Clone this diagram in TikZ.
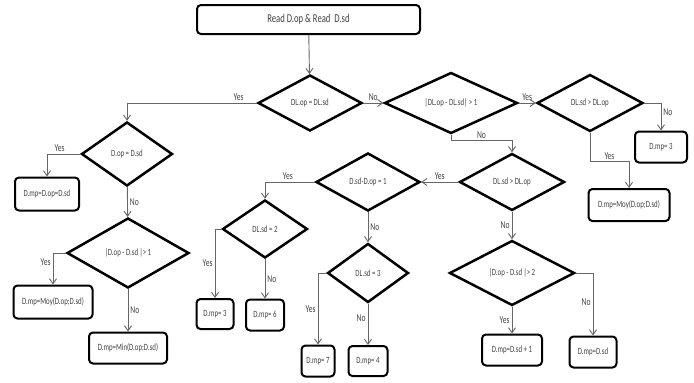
\documentclass[tikz,border=0pt]{standalone}
\usepackage{fontspec}
\newfontfamily\chartfont[FakeStretch=0.72]{Carlito}
\usetikzlibrary{arrows.meta, shapes.geometric}

\tikzset{
    every node/.style={font=\chartfont\fontsize{9.5}{11}\selectfont, text=black!75},
    result/.style={rectangle, rounded corners=4pt, draw, line width=2pt, inner sep=1pt,
        minimum height=31pt},
    decision/.style 2 args={diamond, draw, line width=2.5pt, inner sep=0pt,
        minimum width=#1pt, minimum height=#2pt},
    flow/.style={draw=black!60, line width=0.9pt, -{Straight Barb[length=5pt,width=7pt]}},
    lbl/.style={font=\chartfont\fontsize{10.5}{12}\selectfont, inner sep=2pt}
}

\begin{document}
\begin{tikzpicture}[x=1pt, y=-1pt]
    \useasboundingbox (0,0) rectangle (694,383);

    % start
    \node[result, minimum width=223pt, minimum height=29pt,
          font=\chartfont\fontsize{12}{14}\selectfont] (read) at (308.5,19.5) {Read D.op \& Read\ \ D.sd};

    % first row of tests
    \node[decision={104}{56}] (c1) at (310,103) {DL.op = DL.sd};
    \node[decision={133}{61}] (c2) at (451,103) {|DL.op - DL.sd| > 1};
    \node[decision={106}{57}] (c3) at (590,103) {DL.sd > DL.op};
    \node[result, minimum width=52pt] (r3a) at (661,147) {D.mp= 3};
    \node[result, minimum width=81pt, minimum height=32pt] (r3b) at (629,205) {D.mp=Moy(D.op;D.sd)};

    % middle branch
    \node[decision={105}{57}] (c4) at (512,182) {DL.sd > DL.op};
    \node[decision={104}{58}] (c5) at (368,182) {D.sd-D.op = 1};
    \node[decision={125}{65}] (c6) at (512,273) {|D.op - D.sd |> 2};
    \node[result, minimum width=60pt] (r6a) at (512,350) {D.mp=D.sd + 1};
    \node[result, minimum width=47pt] (r6b) at (593,352) {D.mp=D.sd};

    \node[decision={85}{58}] (c7) at (265,229) {DL.sd = 2};
    \node[result, minimum width=37pt, minimum height=30pt] (r7a) at (215,314) {D.mp= 3};
    \node[result, minimum width=38pt] (r7b) at (265,315) {D.mp= 6};

    \node[decision={81}{59}] (c8) at (368,273) {DL.sd = 3};
    \node[result, minimum width=33pt] (r8a) at (318,361) {D.mp= 7};
    \node[result, minimum width=39pt, minimum height=30pt] (r8b) at (368,361) {D.mp= 4};

    % left branch
    \node[decision={91}{64}] (c9) at (127,154) {D.op = D.sd};
    \node[result, minimum width=64pt, minimum height=33pt] (r9a) at (47,194) {D.mp=D.op=D.sd};
    \node[decision={122}{70}] (c10) at (128,253) {|D.op - D.sd |> 1};
    \node[result, minimum width=79pt, minimum height=33pt] (r10a) at (53,302) {D.mp=Moy(D.op;D.sd)};
    \node[result, minimum width=78pt] (r10b) at (128,348) {D.mp=Min(D.op;D.sd)};

    \path[flow]
        (read) edge (c1)
        (c1) edge node[lbl, above] {No} (c2)
        (c2) edge node[lbl, above] {Yes} (c3)
        (c4) edge node[lbl, above] {Yes} (c5)
        (c4) edge node[lbl, left] {No} (c6)
        (c6) edge node[lbl, left] {Yes} (r6a)
        (c5) edge node[lbl, right] {No} (c8)
        (c7) edge node[lbl, right] {No} (r7b)
        (c8) edge node[lbl, left, pos=0.35] {No} (r8b)
        (c9) edge node[lbl, right] {No} (c10)
        (c10) edge node[lbl, right] {No} (r10b)
    ;

    \draw[flow] (c1.west) -| node[lbl, above, pos=0.07] {Yes} (c9.north);
    \draw[flow] (c3.east) -| node[lbl, right, pos=0.66] {No} (r3a.north);
    \draw[flow] (c3.south) -- ++(0,29) -| node[lbl, above, pos=0.25] {Yes} (r3b.north);
    \draw[flow] (c2.south) -- ++(0,6) -| node[lbl, above, pos=0.25] {No} (c4.north);
    \draw[flow] (c6.east) -| node[lbl, left, pos=0.73] {No} (r6b.north);
    \draw[flow] (c5.west) -| node[lbl, above, pos=0.27] {Yes} (c7.north);
    \draw[flow] (c7.west) -| node[lbl, left, pos=0.75] {Yes} (r7a.north);
    \draw[flow] (c8.west) -| node[lbl, left, pos=0.75] {Yes} (r8a.north);
    \draw[flow] (c9.west) -| node[lbl, above, pos=0.31] {Yes} (r9a.north);
    \draw[flow] (c10.west) -| node[lbl, left, pos=0.64] {Yes} (r10a.north);

\end{tikzpicture}
\end{document}
